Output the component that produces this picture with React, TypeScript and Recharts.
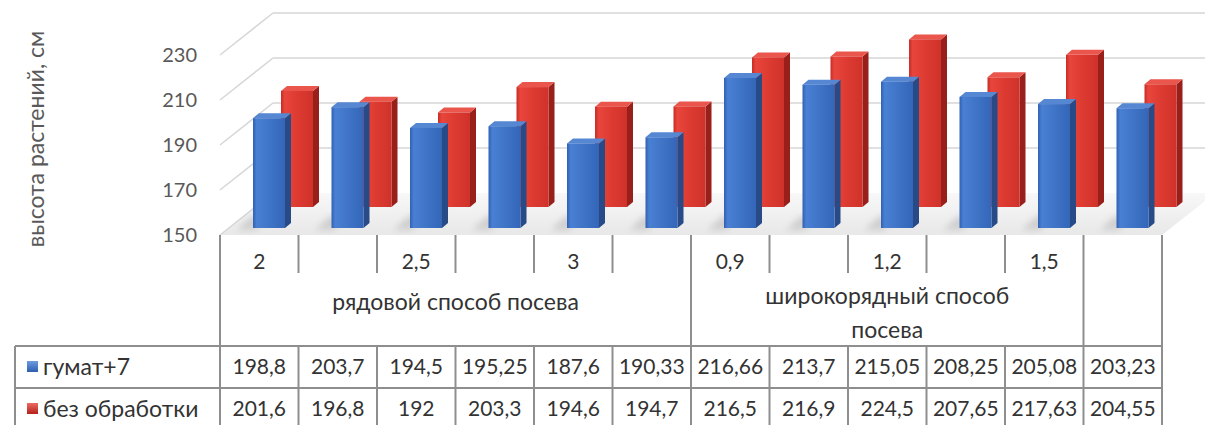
import { BarChart, Bar, XAxis, YAxis, CartesianGrid } from "recharts";

// sowing rate per column (empty = unnamed column)
const categories = ["2", "", "2,5", "", "3", "", "0,9", "", "1,2", "", "1,5", ""];

// sowing method groups spanning the columns above
const groups = [
  { lines: ["рядовой способ посева"], span: 6 },
  { lines: ["широкорядный способ", "посева"], span: 5 },
  { lines: [] as string[], span: 1 },
];

const humate = [198.8, 203.7, 194.5, 195.25, 187.6, 190.33, 216.66, 213.7, 215.05, 208.25, 205.08, 203.23];
const untreated = [201.6, 196.8, 192, 203.3, 194.6, 194.7, 216.5, 216.9, 224.5, 207.65, 217.63, 204.55];

const seriesNames = ["гумат+7", "без обработки"];
const yTicks = [150, 170, 190, 210, 230];
const yTitle = "высота растений, см";

const data = categories.map((label, i) => ({
  id: i,
  label,
  humate: humate[i],
  untreated: untreated[i],
}));

// layout
const W = 1205;
const H = 425;
const PLOT_LEFT = 220;
const PLOT_RIGHT = 1162;
const PLOT_TOP = 55;
const PLOT_BOTTOM = 235;
const COL = (PLOT_RIGHT - PLOT_LEFT) / categories.length;
const DEPTH_X = 53;
const DEPTH_Y = 42;
const TICK_ROW = 38;
const TABLE_TOP = 346;
const ROW_H = 42;
const TABLE_LEFT = 15;
const Y_AXIS_W = 60;

const FONT = "Lato, 'Open Sans', sans-serif";
const GRID = "#d6d6d6";
const BORDER = "#8e8e8e";
const TEXT = "#333333";
const CYR_SIZE = 23;
const NUM_SIZE = 21;

const BLUE = { grad: "gBlue", side: "#284a86", top: "#5687d2" };
const RED = { grad: "gRed", side: "#991f1a", top: "#ea554c" };

const groupEnds = new Set<number>();
groups.reduce((acc, g) => {
  groupEnds.add(acc + g.span - 1);
  return acc + g.span;
}, 0);

const fmt = (v: number) => String(v).replace(".", ",");

function Prism(props: any) {
  const { x = 0, y = 0, width = 0, height = 0, offX, offY, colors } = props;
  const x0 = x + offX;
  const y0 = y + offY;
  const s = 6;
  const t = 5;
  const yb = y0 + height;
  return (
    <g>
      <polygon
        points={`${x0 - 16},${yb + 2} ${x0 + 2},${yb + 2} ${x0 + 16},${yb - 12} ${x0 - 2},${yb - 12}`}
        fill="#9a9a9a"
        opacity={0.35}
        filter="url(#soft)"
      />
      <path
        d={`M${x0 + width},${y0} L${x0 + width + s},${y0 - t} L${x0 + width + s},${yb - t} L${x0 + width},${yb} Z`}
        fill={colors.side}
      />
      <path
        d={`M${x0},${y0} L${x0 + s},${y0 - t} L${x0 + width + s},${y0 - t} L${x0 + width},${y0} Z`}
        fill={colors.top}
      />
      <rect x={x0} y={y0} width={width} height={height} fill={`url(#${colors.grad})`} />
    </g>
  );
}

// horizontal grid: side wall diagonal + back wall line, floor at the bottom
function WallLine(props: any) {
  const { x1, y1, x2 } = props;
  if (y1 >= PLOT_BOTTOM - 0.5) {
    const pts = `${x1},${y1} ${x2},${y1} ${x2 + DEPTH_X},${y1 - DEPTH_Y} ${x1 + DEPTH_X},${y1 - DEPTH_Y}`;
    return (
      <g>
        <polygon points={pts} fill="url(#gFloor)" />
        <line x1={x1} y1={y1} x2={x1 + DEPTH_X} y2={y1 - DEPTH_Y} stroke={GRID} strokeWidth={1.5} />
      </g>
    );
  }
  return (
    <g>
      <line x1={x1} y1={y1} x2={x1 + DEPTH_X} y2={y1 - DEPTH_Y} stroke={GRID} strokeWidth={1.5} />
      <line x1={x1 + DEPTH_X} y1={y1 - DEPTH_Y} x2={x2 + DEPTH_X} y2={y1 - DEPTH_Y} stroke={GRID} strokeWidth={1.5} />
    </g>
  );
}

function CategoryTick(props: any) {
  const { x, index } = props;
  const top = PLOT_BOTTOM;
  const left = x - COL / 2;
  const right = x + COL / 2;
  return (
    <g>
      {index === 0 && <line x1={left} y1={top} x2={left} y2={TABLE_TOP} stroke={BORDER} strokeWidth={2} />}
      <line
        x1={right}
        y1={top}
        x2={right}
        y2={groupEnds.has(index) ? TABLE_TOP : top + TICK_ROW}
        stroke={BORDER}
        strokeWidth={2}
      />
      <text x={x} y={top + 27} dy="0.35em" textAnchor="middle" fill={TEXT} fontSize={NUM_SIZE} fontFamily={FONT}>
        {categories[index]}
      </text>
    </g>
  );
}

function YTitle(props: any) {
  const { viewBox } = props;
  const cx = viewBox.x - 125;
  const cy = viewBox.y + viewBox.height / 2 - 6;
  return (
    <text
      x={cx}
      y={cy}
      transform={`rotate(-90, ${cx}, ${cy})`}
      textAnchor="middle"
      dominantBaseline="central"
      fill="#595959"
      fontSize={CYR_SIZE}
      fontFamily={FONT}
    >
      {yTitle}
    </text>
  );
}

function DataTable() {
  const rows = [humate, untreated];
  const keyColors = [["#6e9be0", "#2e5fb0"], ["#ec6a62", "#b3221c"]];
  const colX = (i: number) => PLOT_LEFT + COL * i;
  let start = 0;
  const groupLabels = groups.map((g, gi) => {
    const cx = colX(start + g.span / 2);
    start += g.span;
    const baseY = g.lines.length > 1 ? 296 : 302;
    return g.lines.map((line, li) => (
      <text
        key={`${gi}-${li}`}
        x={cx}
        y={baseY + li * 34}
        dy="0.35em"
        textAnchor="middle"
        fill={TEXT}
        fontSize={CYR_SIZE}
        fontFamily={FONT}
      >
        {line}
      </text>
    ));
  });
  return (
    <svg width={W} height={H} style={{ position: "absolute", left: 0, top: 0, pointerEvents: "none" }}>
      <defs>
        {keyColors.map((c, i) => (
          <linearGradient key={i} id={`key${i}`} x1="0" y1="0" x2="0" y2="1">
            <stop offset="0%" stopColor={c[0]} />
            <stop offset="100%" stopColor={c[1]} />
          </linearGradient>
        ))}
      </defs>
      {groupLabels}
      {[0, 1, 2].map((r) => (
        <line
          key={`h${r}`}
          x1={TABLE_LEFT}
          y1={TABLE_TOP + r * ROW_H}
          x2={PLOT_RIGHT}
          y2={TABLE_TOP + r * ROW_H}
          stroke={BORDER}
          strokeWidth={2}
        />
      ))}
      {[TABLE_LEFT, ...categories.map((_, i) => colX(i)), PLOT_RIGHT].map((vx, i) => (
        <line key={`v${i}`} x1={vx} y1={TABLE_TOP} x2={vx} y2={H} stroke={BORDER} strokeWidth={2} />
      ))}
      {rows.map((vals, r) => {
        const cy = TABLE_TOP + r * ROW_H + ROW_H / 2;
        return (
          <g key={`r${r}`}>
            <rect x={27} y={cy - 6} width={11} height={11} fill={`url(#key${r})`} />
            <text x={43} y={cy} dy="0.35em" fill={TEXT} fontSize={CYR_SIZE} fontFamily={FONT}>
              {seriesNames[r]}
            </text>
            {vals.map((v, i) => (
              <text
                key={i}
                x={colX(i) + COL / 2}
                y={cy}
                dy="0.35em"
                textAnchor="middle"
                fill={TEXT}
                fontSize={NUM_SIZE}
                fontFamily={FONT}
              >
                {fmt(v)}
              </text>
            ))}
          </g>
        );
      })}
    </svg>
  );
}

export default function App() {
  return (
    <div style={{ position: "absolute", left: 0, top: 0, width: W, height: H, background: "#fff", fontFamily: FONT }}>
      <BarChart
        width={W}
        height={H}
        data={data}
        margin={{ top: PLOT_TOP, right: W - PLOT_RIGHT, bottom: H - PLOT_BOTTOM - 30, left: PLOT_LEFT - Y_AXIS_W }}
      >
        <defs>
          <linearGradient id="gBlue" x1="0" y1="0" x2="1" y2="0">
            <stop offset="0%" stopColor="#2f61b3" />
            <stop offset="12%" stopColor="#4a80d3" />
            <stop offset="55%" stopColor="#3e73c6" />
            <stop offset="100%" stopColor="#3466b8" />
          </linearGradient>
          <linearGradient id="gRed" x1="0" y1="0" x2="1" y2="0">
            <stop offset="0%" stopColor="#c72c25" />
            <stop offset="12%" stopColor="#e8463d" />
            <stop offset="55%" stopColor="#dc3a31" />
            <stop offset="100%" stopColor="#cf322a" />
          </linearGradient>
          <linearGradient id="gFloor" x1="0" y1="1" x2="0" y2="0">
            <stop offset="0%" stopColor="#e8e8e8" />
            <stop offset="100%" stopColor="#f8f8f8" />
          </linearGradient>
          <filter id="soft" x="-50%" y="-50%" width="200%" height="200%">
            <feGaussianBlur stdDeviation="3" />
          </filter>
        </defs>
        <CartesianGrid xAxisId="front" vertical={false} horizontal={WallLine} />
        <XAxis
          xAxisId="front"
          dataKey="id"
          interval={0}
          axisLine={false}
          tickLine={false}
          tickSize={0}
          tickMargin={0}
          tick={<CategoryTick />}
        />
        <XAxis xAxisId="back" dataKey="id" hide />
        <YAxis
          domain={[150, 230]}
          ticks={yTicks}
          width={Y_AXIS_W}
          axisLine={false}
          tickLine={false}
          tickSize={0}
          tickMargin={23}
          tick={{ fill: "#595959", fontSize: 20, fontFamily: FONT }}
          label={YTitle}
        />
        <Bar
          xAxisId="back"
          dataKey="untreated"
          name={seriesNames[1]}
          barSize={32}
          isAnimationActive={false}
          shape={(p: any) => <Prism {...p} offX={38} offY={-28} colors={RED} />}
        />
        <Bar
          xAxisId="front"
          dataKey="humate"
          name={seriesNames[0]}
          barSize={32}
          isAnimationActive={false}
          shape={(p: any) => <Prism {...p} offX={10} offY={-7} colors={BLUE} />}
        />
      </BarChart>
      <DataTable />
    </div>
  );
}
